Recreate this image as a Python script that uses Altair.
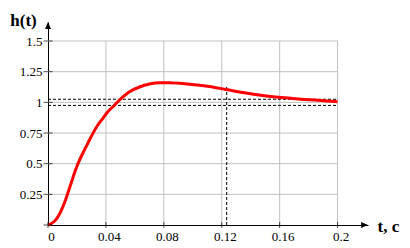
import altair as alt
import pandas as pd

# step response h(t)
t_vals = [0, 0.0017, 0.0052, 0.0075, 0.0098, 0.0121, 0.0144, 0.0167, 0.019, 0.0213,
          0.024, 0.0275, 0.031, 0.0344, 0.0379, 0.0413, 0.0448, 0.0482, 0.0563, 0.0632,
          0.0701, 0.077, 0.0839, 0.0908, 0.0978, 0.1047, 0.110, 0.122, 0.1357, 0.1495,
          0.1634, 0.1772, 0.191, 0.2]
h_vals = [0, 0.008, 0.04, 0.08, 0.136, 0.204, 0.285, 0.367, 0.448, 0.516,
          0.584, 0.666, 0.747, 0.815, 0.87, 0.923, 0.964, 1.005, 1.086, 1.125,
          1.149, 1.160, 1.160, 1.155, 1.148, 1.139, 1.131, 1.107, 1.078, 1.054,
          1.037, 1.024, 1.013, 1.005]

x_ticks = [0, 0.04, 0.08, 0.12, 0.16, 0.2]
y_ticks = [0.25, 0.5, 0.75, 1, 1.25, 1.5]
y_tick_marks = [0, 0.25, 0.5, 0.75, 1, 1.25, 1.5]
band_levels = [0.975, 1.025]
settle_t = 0.1234
settle_top = 1.14
x_max, y_max = 0.2, 1.5
x_dom = [0, 0.221]
y_dom = [0, 1.655]

curve = pd.DataFrame({"t": t_vals, "h": h_vals})
vgrid = pd.DataFrame({"t": x_ticks[1:], "h0": 0, "h1": y_max})
hgrid = pd.DataFrame({"h": y_ticks, "t0": 0, "t1": x_max})
band = pd.DataFrame({"h": band_levels, "t0": 0, "t1": x_max})
settle = pd.DataFrame({"t": [settle_t], "h0": [0], "h1": [settle_top]})
xt = pd.DataFrame({"t": x_ticks, "h": 0})
yt = pd.DataFrame({"h": y_tick_marks, "t": 0})
yarrow = pd.DataFrame({"t": [0], "h": [y_dom[1]]})
xarrow = pd.DataFrame({"t": [x_dom[1]], "h": [0]})

FONT = "Liberation Serif"
xs = alt.Scale(domain=x_dom, nice=False, zero=False)
ys = alt.Scale(domain=y_dom, nice=False, zero=False)

xaxis = alt.Axis(values=x_ticks, format=".3~g", grid=False, ticks=False,
                 domainColor="black", domainWidth=1, labelFont=FONT, labelFontSize=13,
                 labelColor="black", labelPadding=5, labelOffset=3, labelFlush=False,
                 labelOverlap=False, title="t, c", titleFont=FONT, titleFontSize=17,
                 titleFontWeight="bold", titleColor="black", titleAnchor="start",
                 titleAlign="left", titleBaseline="middle", titleX=329, titleY=1)
yaxis = alt.Axis(values=y_ticks, format=".3~g", grid=False, ticks=False,
                 domainColor="black", domainWidth=1, labelFont=FONT, labelFontSize=13,
                 labelColor="black", labelPadding=6, labelFlush=False,
                 labelOverlap=False, title="h(t)", titleFont=FONT, titleFontSize=17,
                 titleFontWeight="bold", titleColor="black", titleAngle=0,
                 titleAlign="center", titleBaseline="middle", titleX=-25, titleY=-2)

grid_v = alt.Chart(vgrid).mark_rule(color="#c0c0c0", strokeWidth=1).encode(
    x=alt.X("t:Q", scale=xs, axis=xaxis), y=alt.Y("h0:Q", scale=ys, axis=yaxis), y2="h1:Q")
grid_h = alt.Chart(hgrid).mark_rule(color="#c0c0c0", strokeWidth=1).encode(
    y=alt.Y("h:Q", scale=ys), x=alt.X("t0:Q", scale=xs), x2="t1:Q")
band_l = alt.Chart(band).mark_rule(color="black", strokeWidth=1, strokeDash=[3, 2]).encode(
    y=alt.Y("h:Q", scale=ys), x=alt.X("t0:Q", scale=xs), x2="t1:Q")
settle_l = alt.Chart(settle).mark_rule(color="black", strokeWidth=1, strokeDash=[3, 2]).encode(
    x=alt.X("t:Q", scale=xs), y=alt.Y("h0:Q", scale=ys), y2="h1:Q")
line = alt.Chart(curve).mark_line(color="#ff0000", strokeWidth=3, interpolate="monotone").encode(
    x=alt.X("t:Q", scale=xs), y=alt.Y("h:Q", scale=ys))
xtick = alt.Chart(xt).mark_tick(color="black", thickness=1, size=6, orient="vertical").encode(
    x=alt.X("t:Q", scale=xs), y=alt.Y("h:Q", scale=ys))
ytick = alt.Chart(yt).mark_tick(color="black", thickness=1, size=9, orient="horizontal").encode(
    x=alt.X("t:Q", scale=xs), y=alt.Y("h:Q", scale=ys))
ya = alt.Chart(yarrow).mark_point(shape="M0,0 L-1,2.3 L1,2.3 Z", size=36, filled=True,
                                  color="black", opacity=1).encode(
    x=alt.X("t:Q", scale=xs), y=alt.Y("h:Q", scale=ys))
xa = alt.Chart(xarrow).mark_point(shape="M0,0 L-2.3,-1 L-2.3,1 Z", size=36, filled=True,
                                  color="black", opacity=1).encode(
    x=alt.X("t:Q", scale=xs), y=alt.Y("h:Q", scale=ys))

chart = alt.layer(grid_v, grid_h, band_l, settle_l, line, xtick, ytick, ya, xa).properties(
    width=320, height=203,
    autosize=alt.AutoSizeParams(type="none"),
    padding={"left": 48, "top": 22, "right": 42, "bottom": 23},
    background="white",
).configure_view(stroke=None)

chart.save("out.html", embed_options={"renderer": "svg", "actions": False})
